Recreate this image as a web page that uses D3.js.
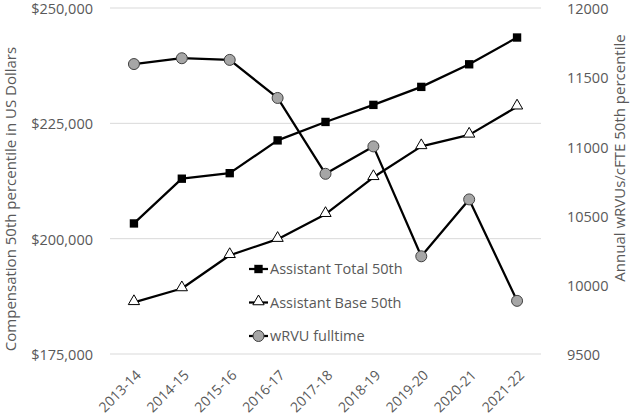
<!DOCTYPE html>
<html>
<head>
<meta charset="utf-8">
<script src="https://cdn.jsdelivr.net/npm/d3@7"></script>
<style>
  body { margin: 0; background: #fff; }
  text { font-family: "Open Sans", sans-serif; fill: #595959; }
</style>
</head>
<body>
<script>
// chart data
var years = ["2013-14", "2014-15", "2015-16", "2016-17", "2017-18", "2018-19", "2019-20", "2020-21", "2021-22"];
var totalComp = [203300, 213000, 214200, 221300, 225300, 229000, 232900, 237800, 243600];
var baseComp = [186200, 189200, 196400, 199900, 205300, 213300, 220000, 222500, 228600];
var wrvu = [11595, 11637, 11625, 11350, 10802, 11000, 10206, 10617, 9884];
var leftTicks = [175000, 200000, 225000, 250000];
var rightTicks = [9500, 10000, 10500, 11000, 11500, 12000];

var width = 632, height = 416;
var plot = { left: 110, right: 541, top: 8, bottom: 354 };

var svg = d3.select("body").append("svg")
    .attr("width", width)
    .attr("height", height);

var x = d3.scaleBand()
    .domain(years)
    .range([plot.left, plot.right]);

var yL = d3.scaleLinear()
    .domain([175000, 250000])
    .range([plot.bottom, plot.top]);

var yR = d3.scaleLinear()
    .domain([9500, 12000])
    .range([plot.bottom, plot.top]);

// gridlines
svg.append("g")
    .selectAll("line")
    .data(leftTicks)
    .enter().append("line")
    .attr("x1", plot.left)
    .attr("x2", plot.right)
    .attr("y1", function (d) { return yL(d); })
    .attr("y2", function (d) { return yL(d); })
    .attr("stroke", "#d9d9d9")
    .attr("stroke-width", 1);

// left axis
var fmt = d3.format("$,");
var gl = svg.append("g")
    .attr("transform", "translate(93,1)")
    .call(d3.axisLeft(yL).tickValues(leftTicks).tickSize(0).tickPadding(0).tickFormat(fmt));
gl.select(".domain").remove();
gl.selectAll("text").attr("font-size", 14.5).attr("fill", "#595959").attr("font-family", null);

// right axis
var gr = svg.append("g")
    .attr("transform", "translate(567,1)")
    .call(d3.axisRight(yR).tickValues(rightTicks).tickSize(0).tickPadding(0).tickFormat(d3.format("d")));
gr.select(".domain").remove();
gr.selectAll("text").attr("font-size", 14.5).attr("fill", "#595959").attr("font-family", null);

// x labels
var xc = function (d) { return x(d) + x.bandwidth() / 2; };
svg.append("g")
    .selectAll("text")
    .data(years)
    .enter().append("text")
    .attr("text-anchor", "end")
    .attr("font-size", 14)
    .attr("transform", function (d) { return "translate(" + (xc(d) + 8) + "," + (plot.bottom + 22) + ") rotate(-45)"; })
    .text(function (d) { return d; });

// axis titles
svg.append("text")
    .attr("text-anchor", "middle")
    .attr("font-size", 15)
    .attr("transform", "translate(16,199) rotate(-90)")
    .text("Compensation 50th percentile in US Dollars");

svg.append("text")
    .attr("text-anchor", "middle")
    .attr("font-size", 15)
    .attr("transform", "translate(625,158) rotate(-90)")
    .text("Annual wRVUs/cFTE 50th percentile");

// series
var lineL = d3.line()
    .x(function (d, i) { return xc(years[i]); })
    .y(function (d) { return yL(d); });
var lineR = d3.line()
    .x(function (d, i) { return xc(years[i]); })
    .y(function (d) { return yR(d); });

function drawLine(data, gen) {
    svg.append("path")
        .datum(data)
        .attr("fill", "none")
        .attr("stroke", "#000")
        .attr("stroke-width", 2.25)
        .attr("stroke-linejoin", "round")
        .attr("d", gen);
}
drawLine(totalComp, lineL);
drawLine(baseComp, lineL);
drawLine(wrvu, lineR);

var sq = d3.symbol().type(d3.symbolSquare).size(70);
var tri = d3.symbol().type(d3.symbolTriangle).size(55);

function squareMark(g, cx, cy) {
    g.append("path").attr("d", sq).attr("transform", "translate(" + cx + "," + cy + ")")
        .attr("fill", "#000");
}
function triMark(g, cx, cy) {
    g.append("path").attr("d", tri).attr("transform", "translate(" + cx + "," + (cy - 1) + ")")
        .attr("fill", "#fff").attr("stroke", "#000").attr("stroke-width", 1);
}
function circMark(g, cx, cy) {
    g.append("circle").attr("cx", cx).attr("cy", cy).attr("r", 5.5)
        .attr("fill", "#a6a6a6").attr("stroke", "#404040").attr("stroke-width", 1);
}

var marks = svg.append("g");
totalComp.forEach(function (d, i) { squareMark(marks, xc(years[i]), yL(d)); });
baseComp.forEach(function (d, i) { triMark(marks, xc(years[i]), yL(d)); });
wrvu.forEach(function (d, i) { circMark(marks, xc(years[i]), yR(d)); });

// legend
var legendItems = ["Assistant Total 50th", "Assistant Base 50th", "wRVU fulltime"];
var legendMarks = [squareMark, triMark, circMark];
var leg = svg.append("g");
legendItems.forEach(function (name, i) {
    var ly = 269 + i * 33.5;
    leg.append("line").attr("x1", 249).attr("x2", 268).attr("y1", ly).attr("y2", ly)
        .attr("stroke", "#000").attr("stroke-width", 2.25);
    legendMarks[i](leg, 258.5, ly);
    leg.append("text")
        .attr("x", 270)
        .attr("y", ly)
        .attr("dy", "0.35em")
        .attr("font-size", 14.5)
        .text(name);
});
</script>
</body>
</html>
